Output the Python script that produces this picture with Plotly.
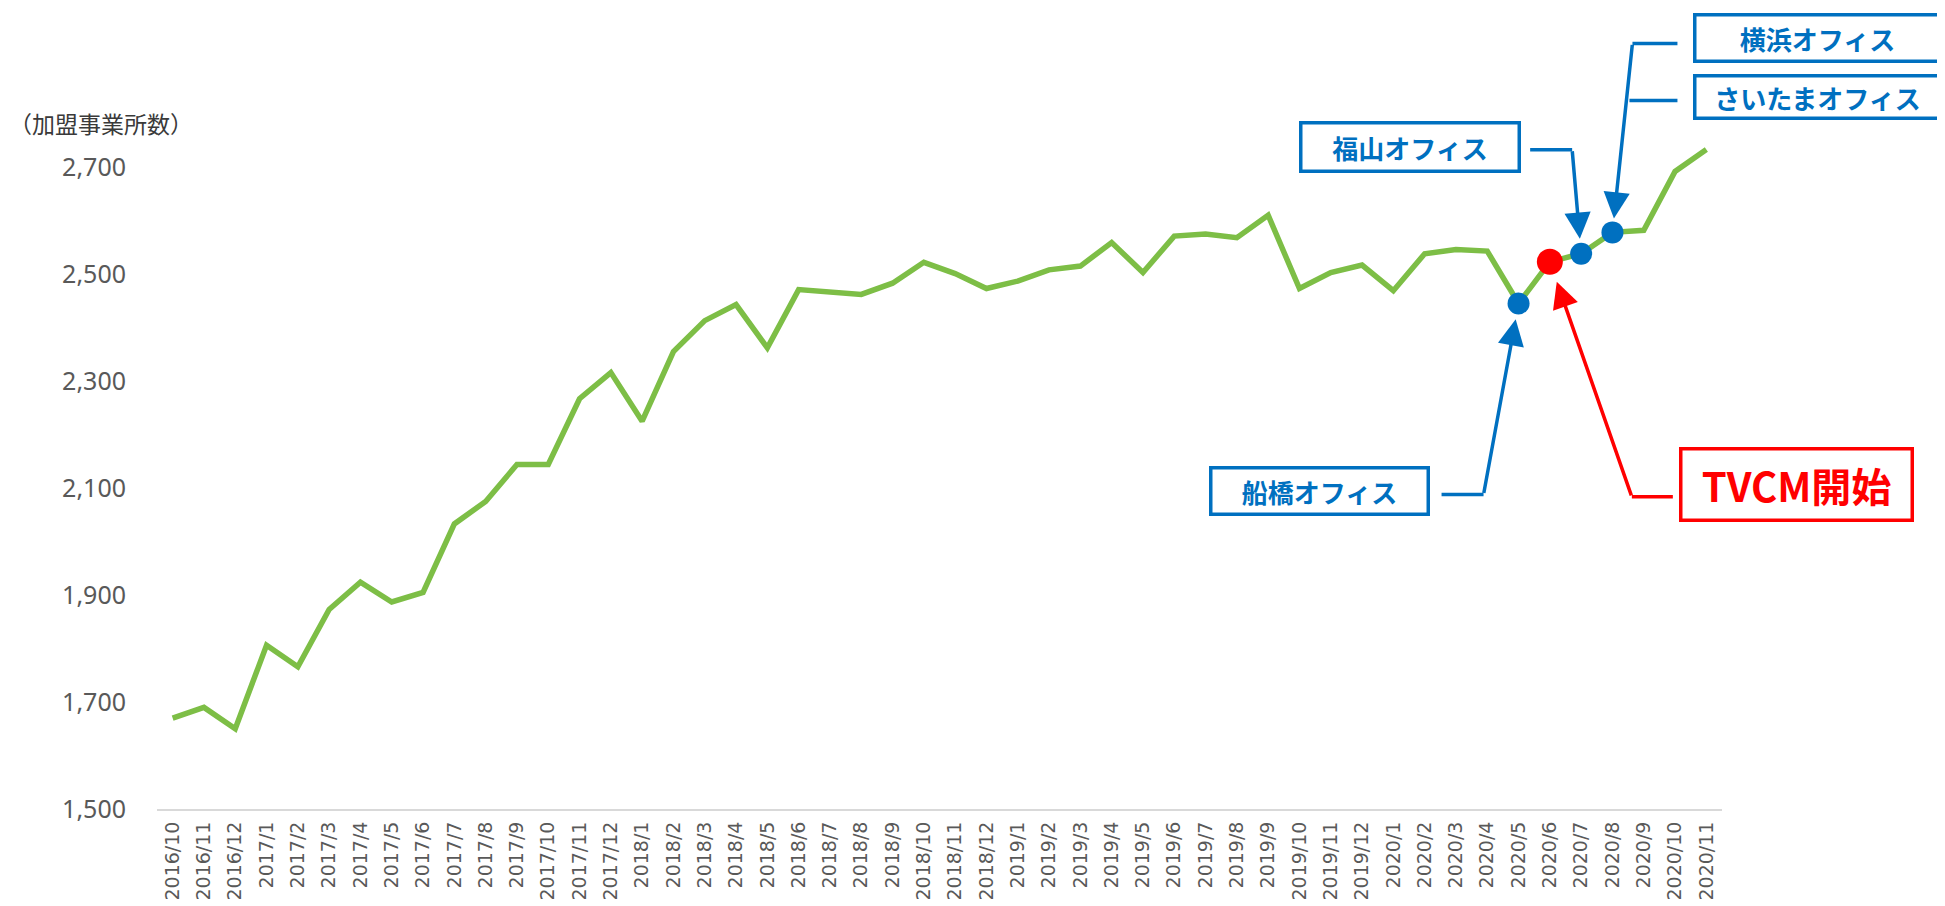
import plotly.graph_objects as go

# ---------------- data ----------------
months = [
    "2016/10", "2016/11", "2016/12",
    "2017/1", "2017/2", "2017/3", "2017/4", "2017/5", "2017/6",
    "2017/7", "2017/8", "2017/9", "2017/10", "2017/11", "2017/12",
    "2018/1", "2018/2", "2018/3", "2018/4", "2018/5", "2018/6",
    "2018/7", "2018/8", "2018/9", "2018/10", "2018/11", "2018/12",
    "2019/1", "2019/2", "2019/3", "2019/4", "2019/5", "2019/6",
    "2019/7", "2019/8", "2019/9", "2019/10", "2019/11", "2019/12",
    "2020/1", "2020/2", "2020/3", "2020/4", "2020/5", "2020/6",
    "2020/7", "2020/8", "2020/9", "2020/10", "2020/11",
]
members = [
    1670, 1690, 1650,
    1806, 1766, 1873, 1924, 1887, 1905,
    2033, 2075, 2144, 2144, 2267, 2316,
    2225, 2355, 2413, 2443, 2362, 2471,
    2466, 2462, 2483, 2522, 2501, 2473,
    2487, 2508, 2515, 2559, 2503, 2571,
    2575, 2568, 2610, 2473, 2503, 2517,
    2469, 2538, 2546, 2543, 2445, 2523,
    2538, 2578, 2582, 2692, 2733,
]
y_ticks = [1500, 1700, 1900, 2100, 2300, 2500, 2700]
y_title = "（加盟事業所数）"

office_months = ["2020/5", "2020/7", "2020/8"]
tvcm_months = ["2020/6"]

callout_labels = ["船橋オフィス", "TVCM開始", "福山オフィス", "横浜オフィス", "さいたまオフィス"]
callout_months = ["2020/5", "2020/6", "2020/7", "2020/8", "2020/8"]

value_of = dict(zip(months, members))

# ---------------- style / layout ----------------
OFF = 8                      # default <body> margin of the written page
W, H = 1945 - OFF, 906 - OFF
Y_MIN, Y_MAX = 1500, 2990
PLOT_LEFT, PLOT_RIGHT, PLOT_BOTTOM = 157, 1722, 809     # page pixels
PX_PER_UNIT = 107.0 / 200.0
PLOT_TOP = PLOT_BOTTOM - (Y_MAX - Y_MIN) * PX_PER_UNIT
ML = PLOT_LEFT - OFF
MR = W - (PLOT_RIGHT - OFF)
MT = int(round(PLOT_TOP - OFF))
MB = H - (PLOT_BOTTOM - OFF)
PW, PH = W - ML - MR, H - MT - MB

GREEN = "#7DBE46"
BLUE = "#0070C0"
RED = "#FF0000"
GRAY = "#595959"


def px(xp):
    return (xp - OFF - ML) / PW


def py(yp):
    return (H - MB - (yp - OFF)) / PH


fig = go.Figure()
fig.add_trace(go.Scatter(
    x=months, y=members, mode="lines",
    line=dict(color=GREEN, width=5.5), hoverinfo="skip", showlegend=False,
))
fig.add_trace(go.Scatter(
    x=office_months, y=[value_of[m] for m in office_months], mode="markers",
    marker=dict(color=BLUE, size=22, line=dict(width=0)),
    hoverinfo="skip", showlegend=False,
))
fig.add_trace(go.Scatter(
    x=tvcm_months, y=[value_of[m] for m in tvcm_months], mode="markers",
    marker=dict(color=RED, size=26, line=dict(width=0)),
    hoverinfo="skip", showlegend=False,
))

# callout geometry (pixel offsets relative to the data point):
# arrow tail (ax, ay; ay positive downward), standoff, horizontal stub (x0, x1, y up-positive)
callout_geom = [
    dict(ax=-35, ay=191, standoff=16, hx0=-77, hx1=-35, hy=-191, color=BLUE,
         box=(1209, 1430, 466, 516), size=26),
    dict(ax=82, ay=235, standoff=21, hx0=82, hx1=123, hy=-235, color=RED,
         box=(1679, 1914, 447, 522), size=40),
    dict(ax=-9, ay=-104, standoff=15, hx0=-51, hx1=-9, hy=104, color=BLUE,
         box=(1299, 1521, 121, 173), size=26),
    dict(ax=20, ay=-189, standoff=14, hx0=20, hx1=65, hy=189, color=BLUE,
         box=(1693, 1942, 13, 63), size=26),
    dict(ax=None, ay=None, standoff=0, hx0=17, hx1=65, hy=132, color=BLUE,
         box=(1693, 1942, 74, 120), size=26),
]

annotations = []
shapes = []
BW = 3.5
for label, month, g in zip(callout_labels, callout_months, callout_geom):
    yv = value_of[month]
    if g["ax"] is not None:
        annotations.append(dict(
            x=month, y=yv, xref="x", yref="y", text="", showarrow=True,
            ax=g["ax"], ay=g["ay"], axref="pixel", ayref="pixel",
            arrowhead=2, arrowsize=1.5, arrowwidth=3.5, arrowcolor=g["color"],
            standoff=g["standoff"],
        ))
    shapes.append(dict(
        type="line", xref="x", yref="y", xsizemode="pixel", ysizemode="pixel",
        xanchor=month, yanchor=yv, x0=g["hx0"], x1=g["hx1"], y0=g["hy"], y1=g["hy"],
        line=dict(color=g["color"], width=3.5),
    ))
    x0, x1, y0, y1 = g["box"]
    annotations.append(dict(
        x=px((x0 + x1) / 2), y=py((y0 + y1) / 2), xref="paper", yref="paper",
        xanchor="center", yanchor="middle", showarrow=False,
        text="<b>%s</b>" % label,
        width=x1 - x0 - 2 * BW, height=y1 - y0 - 2 * BW, borderpad=0,
        bordercolor=g["color"], borderwidth=BW, bgcolor="white",
        font=dict(family="Noto Sans CJK JP", size=g["size"], color=g["color"]),
        align="center", valign="middle",
    ))

annotations.append(dict(
    x=px(7), y=py(123), xref="paper", yref="paper", xanchor="left", yanchor="middle",
    showarrow=False, text=y_title,
    font=dict(family="Noto Sans CJK JP", size=23, color="#3A3A3A"),
))

fig.update_layout(
    width=W, height=H,
    margin=dict(l=ML, r=MR, t=MT, b=MB, pad=0, autoexpand=False),
    paper_bgcolor="white", plot_bgcolor="white",
    showlegend=False,
    annotations=annotations, shapes=shapes,
    xaxis=dict(
        type="category", categoryorder="array", categoryarray=months,
        tickangle=-90, showgrid=False, zeroline=False,
        showline=True, linecolor="#D9D9D9", linewidth=2, ticks="",
        tickfont=dict(family="DejaVu Sans", size=19, color=GRAY),
        ticklabelstandoff=3,
        range=[-0.5, len(months) - 0.5],
    ),
    yaxis=dict(
        range=[Y_MIN, Y_MAX], tickvals=y_ticks, tickformat=",",
        showgrid=False, zeroline=False, showline=False, ticks="",
        tickfont=dict(family="Noto Sans", size=25, color=GRAY),
        ticklabelstandoff=30,
    ),
)

fig.write_html("out.html")
